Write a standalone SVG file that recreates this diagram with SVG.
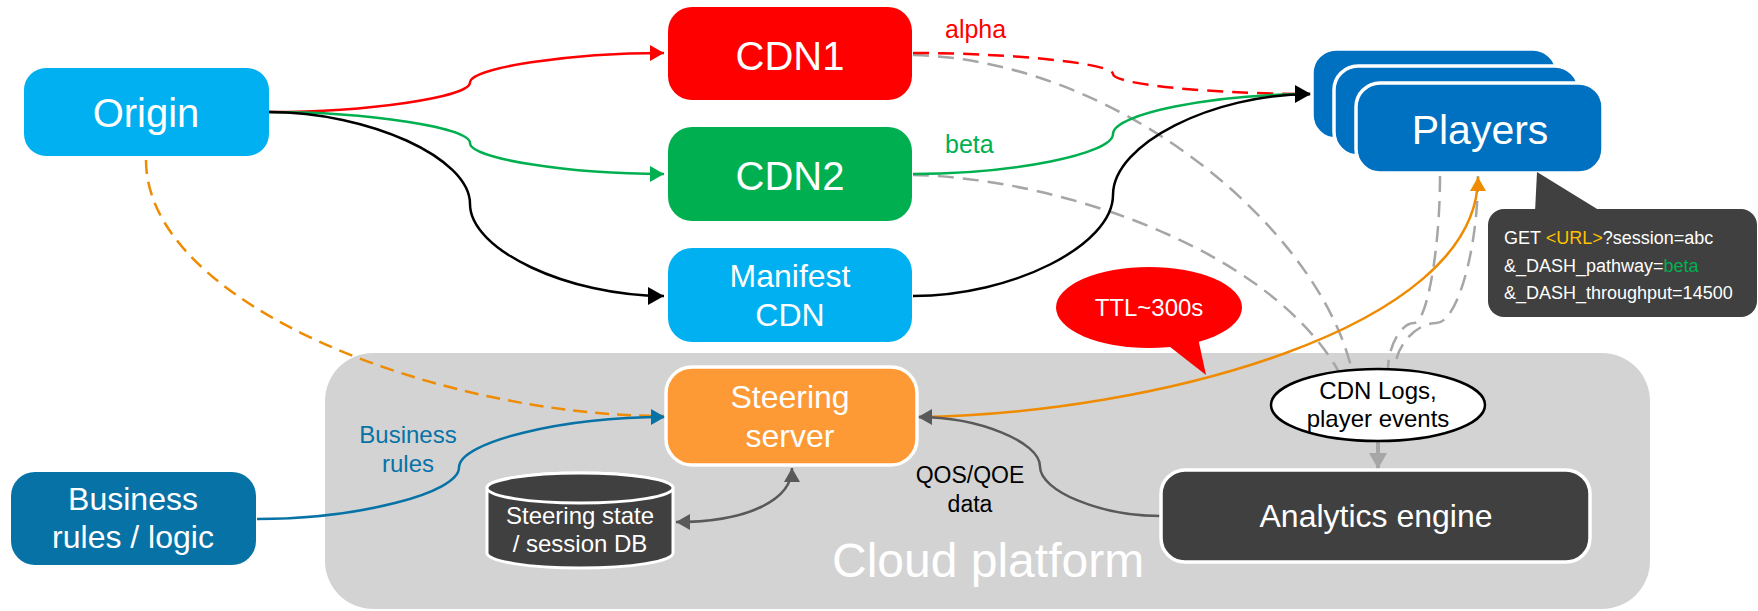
<svg xmlns="http://www.w3.org/2000/svg" width="1758" height="611" viewBox="0 0 1758 611">
<style>
text{font-family:"Liberation Sans",Arial,sans-serif;}
.w{fill:#fff;text-anchor:middle;}
.c{text-anchor:middle;}
.ln{fill:none;stroke-width:2.5;}
.dash{stroke-dasharray:16 9;}
.box{stroke:none;}
.wb{stroke:#fff;stroke-width:3.5;}
</style>
<defs>
<marker id="aR" markerUnits="userSpaceOnUse" viewBox="0 0 14 16" refX="14" refY="8" markerWidth="14" markerHeight="16" orient="auto"><path d="M0,0L14,8L0,16z" fill="#FF0000"/></marker>
<marker id="aG" markerUnits="userSpaceOnUse" viewBox="0 0 14 16" refX="14" refY="8" markerWidth="14" markerHeight="16" orient="auto"><path d="M0,0L14,8L0,16z" fill="#00B050"/></marker>
<marker id="aK" markerUnits="userSpaceOnUse" viewBox="0 0 16 18" refX="16" refY="9" markerWidth="16" markerHeight="18" orient="auto"><path d="M0,0L16,9L0,18z" fill="#000"/></marker>
<marker id="aB" markerUnits="userSpaceOnUse" viewBox="0 0 14 16" refX="14" refY="8" markerWidth="14" markerHeight="16" orient="auto"><path d="M0,0L14,8L0,16z" fill="#0772A6"/></marker>
<marker id="aO" markerUnits="userSpaceOnUse" viewBox="0 0 14 16" refX="14" refY="8" markerWidth="14" markerHeight="16" orient="auto"><path d="M0,0L14,8L0,16z" fill="#EF8B00"/></marker>
<marker id="aD" markerUnits="userSpaceOnUse" viewBox="0 0 14 16" refX="14" refY="8" markerWidth="14" markerHeight="16" orient="auto-start-reverse"><path d="M0,0L14,8L0,16z" fill="#595959"/></marker>
<marker id="aL" markerUnits="userSpaceOnUse" viewBox="0 0 16 18" refX="16" refY="9" markerWidth="16" markerHeight="18" orient="auto"><path d="M0,0L16,9L0,18z" fill="#A6A6A6"/></marker>
</defs>

<g id="cloud">
<rect x="325" y="353" width="1325" height="256" rx="48" fill="#D3D3D3"/>
<text x="832" y="577" font-size="48" fill="#fff">Cloud platform</text>
</g>

<g id="connectors">
<!-- origin to CDNs -->
<path class="ln" stroke="#FF0000" d="M269,112 C369,112 470,97 470,82.5 C470,68 568,53 664,53" marker-end="url(#aR)"/>
<path class="ln" stroke="#00B050" d="M269,112 C369,112 470,127.5 470,143 C470,158.5 568,174 664,174" marker-end="url(#aG)"/>
<path class="ln" stroke="#000" stroke-width="3" d="M269,112 C369,112 470,158 470,204 C470,250 568,296 664,296" marker-end="url(#aK)"/>
<!-- gray dashed to logs -->
<path class="ln dash" stroke="#A6A6A6" d="M913,55 C1120,60 1320,230 1352,371"/>
<path class="ln dash" stroke="#A6A6A6" d="M913,175 C1060,178 1270,250 1339,372"/>
<path class="ln dash" stroke="#A6A6A6" d="M1440,176 C1440,249 1427,323 1414,323 C1401,323 1388,346 1388,370"/>
<path class="ln dash" stroke="#A6A6A6" d="M1478,176 C1478,250 1457,323 1436.5,323 C1416,323 1395,346 1395,370"/>
<!-- CDNs to players -->
<path class="ln dash" stroke="#FF0000" d="M913,53 C1013,53 1113,63.5 1113,74 C1113,84.5 1212,94 1311,94"/>
<path class="ln" stroke="#00B050" d="M913,174 C1013,174 1113,154 1113,134 C1113,114 1212,94 1311,94"/>
<path class="ln" stroke="#000" stroke-width="3" d="M913,296 C1013,296 1113,245 1113,195 C1113,144 1212,94 1311,94" marker-end="url(#aK)"/>
<!-- origin to steering dashed -->
<path class="ln" stroke="#EF8B00" stroke-dasharray="14 8" d="M146,160 C146,305 440,416 664,416"/>
<!-- business rules -->
<path class="ln" stroke="#0772A6" d="M257,519 C358,519 459,493 459,467.5 C459,442 562,417 665,417" marker-end="url(#aB)"/>
<!-- steering to players -->
<path class="ln" stroke="#EF8B00" d="M918,417 C1150,414 1478,330 1478,177" marker-end="url(#aO)"/>
<!-- analytics to steering -->
<path class="ln" stroke="#595959" d="M1161,516 C1100,516 1040,491 1040,466.5 C1040,442 979,417 918,417" marker-end="url(#aD)"/>
<!-- db <-> steering -->
<path class="ln" stroke="#595959" d="M676,522 C748,522 792,500 792,468" marker-start="url(#aD)" marker-end="url(#aD)"/>
<!-- logs to analytics -->
<path fill="none" stroke="#A6A6A6" stroke-width="4" d="M1378,441 L1378,469" marker-end="url(#aL)"/>
</g>

<g id="origin">
<rect class="box" x="24" y="68" width="245" height="88" rx="22" fill="#00B0F0"/>
<text class="w" x="146" y="127" font-size="40">Origin</text>
</g>

<g id="cdn1">
<rect class="box" x="668" y="7" width="244" height="93" rx="24" fill="#FF0000"/>
<text class="w" x="790" y="70" font-size="40">CDN1</text>
</g>
<text x="945" y="38" font-size="25" fill="#FF0000">alpha</text>

<g id="cdn2">
<rect class="box" x="668" y="127" width="244" height="94" rx="24" fill="#00B050"/>
<text class="w" x="790" y="190" font-size="40">CDN2</text>
</g>
<text x="945" y="153" font-size="25" fill="#00B050">beta</text>

<g id="manifest">
<rect class="box" x="668" y="248" width="244" height="94" rx="24" fill="#00B0F0"/>
<text class="w" x="790" y="287" font-size="32">Manifest</text>
<text class="w" x="790" y="326" font-size="32">CDN</text>
</g>

<g id="players">
<rect class="wb" x="1312" y="49" width="245" height="90" rx="24" fill="#0070C0"/>
<rect class="wb" x="1334" y="66" width="245" height="90" rx="24" fill="#0070C0"/>
<rect class="wb" x="1356" y="83" width="247" height="90" rx="24" fill="#0070C0"/>
<text class="w" x="1480" y="144" font-size="41">Players</text>
</g>

<g id="request-callout">
<path d="M1535,212 L1537,172 L1602,212 Z" fill="#404040"/>
<rect x="1488" y="209" width="269" height="108" rx="16" fill="#404040"/>
<text x="1504" y="244" font-size="18" fill="#fff">GET <tspan fill="#FFC000">&lt;URL&gt;</tspan>?session=abc</text>
<text x="1504" y="271.5" font-size="18" fill="#fff">&amp;_DASH_pathway=<tspan fill="#00B050">beta</tspan></text>
<text x="1504" y="299" font-size="18" fill="#fff">&amp;_DASH_throughput=14500</text>
</g>

<g id="ttl">
<path d="M1165,343 L1206,375 L1198,338 Z" fill="#FF0000"/>
<ellipse cx="1149" cy="307.5" rx="93" ry="40.5" fill="#FF0000"/>
<text class="w" x="1149" y="316" font-size="24">TTL~300s</text>
</g>

<g id="steering">
<rect class="wb" x="666" y="367" width="251" height="98" rx="26" fill="#FD9A36" stroke-width="4"/>
<text class="w" x="790" y="408" font-size="32">Steering</text>
<text class="w" x="790" y="447" font-size="32">server</text>
</g>

<g id="business">
<rect class="box" x="11" y="472" width="245" height="93" rx="24" fill="#0772A6"/>
<text class="w" x="133" y="510" font-size="32">Business</text>
<text class="w" x="133" y="548" font-size="32">rules / logic</text>
</g>
<text class="c" x="408" y="443" font-size="24" fill="#0772A6">Business</text>
<text class="c" x="408" y="472" font-size="24" fill="#0772A6">rules</text>

<g id="db">
<path d="M487,488 L487,553 A93,15 0 0 0 673,553 L673,488 A93,15 0 0 0 487,488 Z" fill="#404040" stroke="#fff" stroke-width="3"/>
<ellipse cx="580" cy="488" rx="93" ry="15" fill="#404040" stroke="#fff" stroke-width="3"/>
<text class="w" x="580" y="524" font-size="24">Steering state</text>
<text class="w" x="580" y="552" font-size="24">/ session DB</text>
</g>

<text class="c" x="970" y="483" font-size="23" fill="#000">QOS/QOE</text>
<text class="c" x="970" y="512" font-size="23" fill="#000">data</text>

<g id="logs">
<ellipse cx="1378" cy="405" rx="107" ry="36" fill="#fff" stroke="#000" stroke-width="2.5"/>
<text class="c" x="1378" y="399" font-size="24" fill="#000">CDN Logs,</text>
<text class="c" x="1378" y="427" font-size="24" fill="#000">player events</text>
</g>

<g id="analytics">
<rect class="wb" x="1161" y="470" width="429" height="92" rx="24" fill="#404040"/>
<text class="w" x="1376" y="527" font-size="32">Analytics engine</text>
</g>
</svg>
